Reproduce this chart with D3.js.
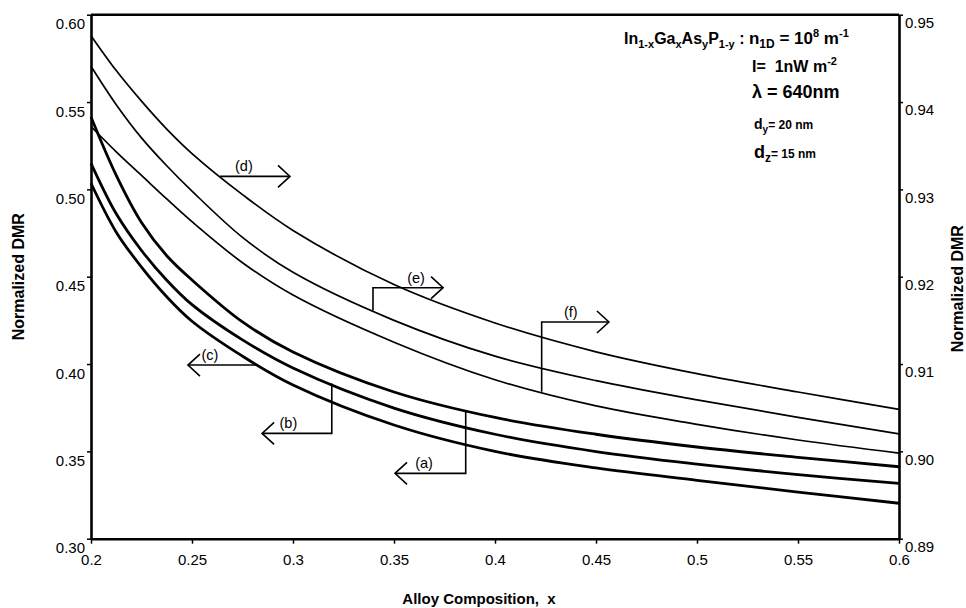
<!DOCTYPE html>
<html>
<head>
<meta charset="utf-8">
<script src="https://cdn.jsdelivr.net/npm/d3@7"></script>
<style>
body{margin:0;background:#fff;}
svg text{font-family:"Liberation Sans",Arial,sans-serif;fill:#000;}
.axis path,.axis line{stroke:#000;}
</style>
</head>
<body>
<div class="plot"></div>
<script>
// alloy composition x
var xVals = [0.2,0.2125,0.225,0.2375,0.25,0.275,0.3,0.35,0.4,0.45,0.5,0.55,0.6];
// left axis curves (thick)
var dmrA = [0.5414,0.508,0.481,0.462,0.4481,0.4241,0.4069,0.3840,0.3694,0.3598,0.3525,0.3466,0.3412];
var dmrB = [0.5149,0.486,0.465,0.448,0.434,0.4138,0.3977,0.3748,0.3598,0.3499,0.3427,0.3367,0.3317];
var dmrC = [0.5035,0.4755,0.4555,0.4385,0.4245,0.4045,0.3880,0.3651,0.3500,0.3405,0.3334,0.3267,0.3203];
// right axis curves (thin)
var dmrD = [0.9476,0.9436,0.9401,0.9369,0.9341,0.9294,0.9253,0.9191,0.9147,0.9114,0.9089,0.9068,0.9048];
var dmrE = [0.9441,0.9397,0.9359,0.9327,0.9298,0.9245,0.9205,0.9150,0.9109,0.9081,0.9059,0.9039,0.9020];
var dmrF = [0.9372,0.9343,0.9316,0.9289,0.9263,0.9216,0.9179,0.9125,0.9082,0.9052,0.9031,0.9013,0.8998];

var xTicks = [0.2,0.25,0.3,0.35,0.4,0.45,0.5,0.55,0.6];
var xTickLabels = ["0.2","0.25","0.3","0.35","0.4","0.45","0.5","0.55","0.6"];
var leftTicks = [0.30,0.35,0.40,0.45,0.50,0.55,0.60];
var rightTicks = [0.89,0.90,0.91,0.92,0.93,0.94,0.95];

// curve labels: which curve, where the leader leaves it, bend level, arrow tip, label x
var noteNames = ["a","b","c","d","e","f"];
var noteAttach = [0.3855,0.3192,0.2827,0.2639,0.3396,0.4231];
var noteBend = [0.3374,0.3603,null,null,0.91874,0.91481];
var noteTip = [0.3505,0.2847,0.2480,0.2985,0.3743,0.4564];
var noteLabelX = [0.3649,0.2977,0.2589,0.2757,0.3609,0.4375];

var W = 966, H = 608;
var m = {t:14.7, r:67, b:69.3, l:91},
	w = W - m.l - m.r,
	h = H - m.t - m.b;

var svg = d3.select('.plot').append('svg')
	.attr('width', W)
	.attr('height', H);

var g = svg.append('g').attr('transform','translate('+m.l+','+m.t+')');

var x = d3.scaleLinear().domain([0.2,0.6]).range([0,w]);
var yL = d3.scaleLinear().domain([0.30,0.60]).range([h,0]);
var yR = d3.scaleLinear().domain([0.89,0.95]).range([h,0]);

// axes
var xAxis = g.append('g').attr('class','axis')
	.attr('transform','translate(0,'+h+')')
	.call(d3.axisBottom(x).tickValues(xTicks).tickSizeInner(5).tickSizeOuter(0).tickPadding(11)
		.tickFormat(function(d,i){ return xTickLabels[i]; }));
xAxis.selectAll('text').style('font-size','15px');

var lAxis = g.append('g').attr('class','axis')
	.call(d3.axisLeft(yL).tickValues(leftTicks).tickSizeInner(4).tickSizeOuter(0).tickPadding(2)
		.tickFormat(d3.format('.2f')));
lAxis.selectAll('text').style('font-size','15px').attr('dy','0.95em');

var rAxis = g.append('g').attr('class','axis')
	.attr('transform','translate('+w+',0)')
	.call(d3.axisRight(yR).tickValues(rightTicks).tickSizeInner(4).tickSizeOuter(0).tickPadding(2)
		.tickFormat(d3.format('.2f')));
rAxis.selectAll('text').style('font-size','15px').attr('dy','0.85em');

g.selectAll('.axis path').style('stroke-width',2.6);
g.selectAll('.axis line').style('stroke-width',1.5);

g.append('line')
	.attr('x1',0).attr('x2',w).attr('y1',0).attr('y2',0)
	.style('stroke','#000').style('stroke-width',2.6);

// curves
var leftSeries = [dmrA,dmrB,dmrC];
var rightSeries = [dmrD,dmrE,dmrF];

var lineL = d3.line().x(function(d,i){ return x(xVals[i]); }).y(function(d){ return yL(d); }).curve(d3.curveCatmullRom.alpha(0.5));
var lineR = d3.line().x(function(d,i){ return x(xVals[i]); }).y(function(d){ return yR(d); }).curve(d3.curveCatmullRom.alpha(0.5));

g.selectAll('.thick').data(leftSeries).enter().append('path')
	.attr('class','thick')
	.attr('d', lineL)
	.style('fill','none').style('stroke','#000').style('stroke-width',2.8);

g.selectAll('.thin').data(rightSeries).enter().append('path')
	.attr('class','thin')
	.attr('d', lineR)
	.style('fill','none').style('stroke','#000').style('stroke-width',1.7);

// value of a series at any x (linear between points)
function valueAt(series, xv){
	var i = d3.bisectRight(xVals, xv) - 1;
	i = Math.max(0, Math.min(xVals.length-2, i));
	var t = (xv - xVals[i])/(xVals[i+1]-xVals[i]);
	return series[i] + t*(series[i+1]-series[i]);
}

var allSeries = [dmrA,dmrB,dmrC,dmrD,dmrE,dmrF];

noteNames.forEach(function(n,i){
	var ys = i < 3 ? yL : yR;
	var px0 = x(noteAttach[i]),
		py0 = ys(valueAt(allSeries[i], noteAttach[i])),
		pyb = noteBend[i] === null ? py0 : ys(noteBend[i]),
		ptip = x(noteTip[i]);
	var pts = [[px0,py0],[px0,pyb],[ptip,pyb]];
	g.append('path')
		.attr('d', d3.line()(pts))
		.style('fill','none').style('stroke','#000').style('stroke-width',1.6);
	var dir = ptip > px0 ? -1 : 1;
	g.append('path')
		.attr('d', d3.line()([[ptip+dir*12,pyb-11],[ptip,pyb],[ptip+dir*12,pyb+11]]))
		.style('fill','none').style('stroke','#000').style('stroke-width',1.6);
	g.append('text')
		.attr('x', x(noteLabelX[i]))
		.attr('y', pyb - 5)
		.attr('text-anchor','middle')
		.style('font-size','14.5px')
		.text('('+n+')');
});

// axis titles
svg.append('text')
	.attr('x', m.l + w/2 - 16).attr('y', 604)
	.attr('text-anchor','middle')
	.style('font-size','15px').style('font-weight','bold')
	.style('white-space','pre')
	.text('Alloy Composition,  x');

svg.append('text')
	.attr('transform','translate(24,'+(m.t+h/2)+') rotate(-90)')
	.attr('text-anchor','middle')
	.style('font-size','16px').style('font-weight','bold')
	.text('Normalized DMR');

svg.append('text')
	.attr('transform','translate(963,'+(m.t+h/2+12)+') rotate(-90)')
	.attr('text-anchor','middle')
	.style('font-size','16px').style('font-weight','bold')
	.text('Normalized DMR');

// parameter block
function richText(xp, yp, parts){
	var t = svg.append('text').attr('x',xp).attr('y',yp).style('font-weight','bold').style('white-space','pre');
	var off = 0;
	parts.forEach(function(p){
		var shift = p[1]==='sub' ? 4 : (p[1]==='sup' ? -7 : 0);
		t.append('tspan')
			.attr('dy', shift - off)
			.style('font-size', p[2]+'px')
			.text(p[0]);
		off = shift;
	});
	return t;
}

richText(624, 44, [
	['In',null,16],['1-x','sub',11],['Ga',null,16],['x','sub',11],['As',null,16],['y','sub',11],
	['P',null,16],['1-y','sub',11],[' : ',null,16],['n',null,17],['1D','sub',12],[' = 10',null,17],
	['8','sup',11],[' m',null,17],['-1','sup',11]
]);
richText(752, 72, [['I=  1nW',null,16],[' m',null,16],['-2','sup',11]]);
richText(752, 98, [['\u03bb = 640nm',null,18]]);
richText(754, 129, [['d',null,14],['y','sub',10],['= 20 nm',null,12]]);
richText(754, 158, [['d',null,18],['z','sub',12],['= 15 nm',null,12]]);
</script>
</body>
</html>
